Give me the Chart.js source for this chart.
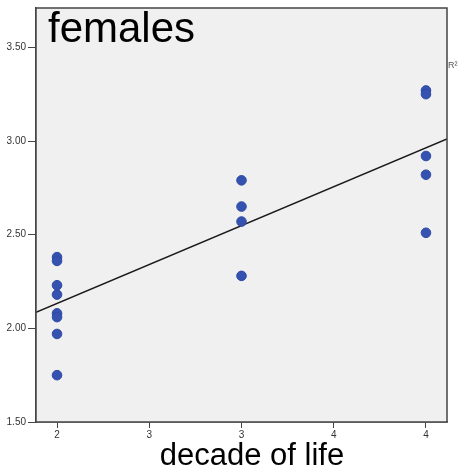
<!DOCTYPE html>
<html>
<head>
<meta charset="utf-8">
<script src="https://cdn.jsdelivr.net/npm/chart.js@4/dist/chart.umd.min.js"></script>
<style>
  html, body { margin: 0; padding: 0; background: #fff; }
  #wrap { width: 461px; height: 476px; }
</style>
</head>
<body>
<div id="wrap"><canvas id="c"></canvas></div>
<script>
const decade = [2, 2, 2, 2, 2, 2, 2, 2, 3, 3, 3, 3, 4, 4, 4, 4, 4];
const values = [2.38, 2.36, 2.23, 2.18, 2.08, 2.06, 1.97, 1.75,
                2.79, 2.65, 2.57, 2.28,
                3.27, 3.25, 2.92, 2.82, 2.51];

// axis ticks (SPSS printed rounded labels on half steps)
const xTickValues = [2, 2.5, 3, 3.5, 4];
const xTickLabels = ["2", "3", "3", "4", "4"];
const yTickValues = [1.5, 2.0, 2.5, 3.0, 3.5];

const xMin = 1.886, xMax = 4.114;
const yMin = 1.5, yMax = 3.71;

// least squares fit line
const n = decade.length;
const mx = decade.reduce((a, b) => a + b, 0) / n;
const my = values.reduce((a, b) => a + b, 0) / n;
let sxy = 0, sxx = 0;
for (let i = 0; i < n; i++) {
    sxy += (decade[i] - mx) * (values[i] - my);
    sxx += (decade[i] - mx) * (decade[i] - mx);
}
const slope = sxy / sxx;
const intercept = my - slope * mx;

const points = decade.map((d, i) => ({ x: d, y: values[i] }));
const fitLine = [xMin, xMax].map(x => ({ x: x, y: intercept + slope * x }));

const FONT = "'Liberation Sans', Arial, sans-serif";

// gray plot background, frame and the labels
const frame = {
    id: "frame",
    beforeDatasetsDraw(chart) {
        const a = chart.chartArea, ctx = chart.ctx;
        ctx.save();
        ctx.fillStyle = "#f0f0f0";
        ctx.fillRect(a.left, a.top, a.right - a.left, a.bottom - a.top);
        ctx.restore();
    },
    afterDraw(chart) {
        const a = chart.chartArea, ctx = chart.ctx;
        ctx.save();
        ctx.strokeStyle = "#444";
        ctx.lineWidth = 1.5;
        ctx.strokeRect(a.left, a.top, a.right - a.left, a.bottom - a.top);
        ctx.fillStyle = "#000";
        ctx.textBaseline = "alphabetic";
        ctx.font = "42px " + FONT;
        ctx.fillText("females", a.left + 12, 42);
        // x axis title
        ctx.font = "31px " + FONT;
        ctx.textAlign = "center";
        ctx.fillText("decade of life", 252, 465);
        ctx.textAlign = "left";
        ctx.fillStyle = "#555";
        ctx.font = "9px " + FONT;
        ctx.fillText("R²", a.right + 1, 68);
        ctx.restore();
    }
};

new Chart(document.getElementById("c"), {
    type: "scatter",
    data: {
        datasets: [
            {
                data: points,
                backgroundColor: "#3552b0",
                borderColor: "#2f4aa6",
                pointRadius: 4.8,
                pointHoverRadius: 4.8
            },
            {
                type: "line",
                data: fitLine,
                borderColor: "#1a1a1a",
                borderWidth: 1.5,
                pointRadius: 0,
                fill: false
            }
        ]
    },
    options: {
        responsive: true,
        maintainAspectRatio: false,
        animation: false,
        layout: { padding: { left: 0, top: 3, right: 14, bottom: 0 } },
        plugins: { legend: { display: false }, tooltip: { enabled: false } },
        scales: {
            x: {
                type: "linear",
                min: xMin,
                max: xMax,
                afterBuildTicks: s => { s.ticks = xTickValues.map(v => ({ value: v })); },
                afterFit: s => { s.height = 54; },
                grid: { drawOnChartArea: false, drawTicks: true, tickLength: 6, color: "#444" },
                border: { display: true, color: "#444", width: 1.5 },
                ticks: {
                    padding: 1,
                    color: "#333",
                    font: { size: 10, family: FONT },
                    callback: v => xTickLabels[xTickValues.indexOf(v)]
                }
            },
            y: {
                min: yMin,
                max: yMax,
                afterBuildTicks: s => { s.ticks = yTickValues.map(v => ({ value: v })); },
                afterFit: s => { s.width = 36; },
                grid: { drawOnChartArea: false, drawTicks: true, tickLength: 8, color: "#444" },
                border: { display: true, color: "#444", width: 1.5 },
                ticks: {
                    padding: 2,
                    color: "#333",
                    font: { size: 10, family: FONT },
                    callback: v => v.toFixed(2)
                }
            }
        }
    },
    plugins: [frame]
});
</script>
</body>
</html>
